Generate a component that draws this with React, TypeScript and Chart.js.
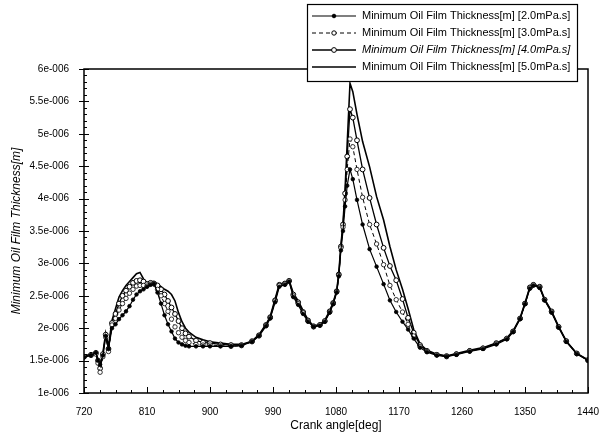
import React, { useEffect, useRef } from "react";
import { Chart, registerables } from "chart.js";
Chart.register(...registerables);

// Crank angle grid [deg]
const angles = [720, 730, 737, 740, 743, 747, 751, 755, 760, 765, 770, 775, 780, 785, 790, 795, 800, 805, 810, 815, 820, 825, 830, 835, 840, 845, 850, 855, 860, 865, 870, 880, 890, 900, 915, 930, 945, 960, 970, 980, 986, 993, 999, 1007, 1013, 1019, 1026, 1033, 1040, 1048, 1057, 1064, 1071, 1076, 1081, 1084, 1087, 1090, 1093, 1096, 1100, 1104, 1110, 1118, 1128, 1138, 1148, 1157, 1166, 1175, 1183, 1191, 1200, 1210, 1224, 1238, 1252, 1271, 1290, 1309, 1324, 1333, 1343, 1350, 1357, 1362, 1371, 1378, 1388, 1398, 1409, 1424, 1440];

// Minimum oil film thickness, in units of 1e-6 m
const film20 = [1.55, 1.58, 1.62, 1.5, 1.44, 1.58, 1.88, 1.68, 2.0, 2.06, 2.14, 2.2, 2.26, 2.34, 2.44, 2.52, 2.57, 2.6, 2.64, 2.67, 2.68, 2.55, 2.38, 2.2, 2.06, 1.95, 1.84, 1.78, 1.75, 1.73, 1.72, 1.72, 1.72, 1.72, 1.72, 1.72, 1.73, 1.79, 1.88, 2.03, 2.15, 2.4, 2.64, 2.67, 2.72, 2.48, 2.36, 2.22, 2.1, 2.02, 2.04, 2.1, 2.24, 2.37, 2.55, 2.8, 3.2, 3.5, 3.88, 4.2, 4.45, 4.3, 3.98, 3.6, 3.22, 2.95, 2.68, 2.43, 2.25, 2.1, 1.98, 1.84, 1.7, 1.63, 1.58, 1.56, 1.59, 1.64, 1.68, 1.75, 1.83, 1.94, 2.14, 2.37, 2.61, 2.66, 2.62, 2.43, 2.24, 2.01, 1.79, 1.6, 1.5];
const film30 = [1.56, 1.58, 1.6, 1.46, 1.32, 1.56, 1.86, 1.64, 2.05, 2.15, 2.28, 2.38, 2.46, 2.54, 2.6, 2.65, 2.66, 2.66, 2.65, 2.68, 2.68, 2.6, 2.5, 2.38, 2.26, 2.14, 2.02, 1.93, 1.86, 1.81, 1.78, 1.75, 1.74, 1.74, 1.73, 1.72, 1.73, 1.79, 1.88, 2.04, 2.16, 2.42, 2.66, 2.68, 2.73, 2.5, 2.38, 2.24, 2.11, 2.02, 2.05, 2.11, 2.25, 2.38, 2.56, 2.82, 3.24, 3.56, 3.98, 4.45, 4.92, 4.8, 4.45, 4.02, 3.6, 3.3, 2.98, 2.66, 2.44, 2.25, 2.06, 1.88, 1.72, 1.64, 1.59, 1.56, 1.6, 1.65, 1.69, 1.76, 1.84, 1.95, 2.15, 2.38, 2.62, 2.67, 2.63, 2.44, 2.25, 2.02, 1.8, 1.61, 1.5];
const film40 = [1.56, 1.59, 1.62, 1.5, 1.38, 1.6, 1.9, 1.68, 2.08, 2.22, 2.38, 2.5, 2.58, 2.64, 2.7, 2.73, 2.74, 2.72, 2.68, 2.7, 2.69, 2.66, 2.6, 2.52, 2.42, 2.32, 2.22, 2.11, 2.0, 1.92, 1.87, 1.81, 1.78, 1.77, 1.75, 1.74, 1.74, 1.8, 1.89, 2.05, 2.17, 2.43, 2.67, 2.69, 2.73, 2.52, 2.4, 2.25, 2.12, 2.03, 2.05, 2.11, 2.26, 2.39, 2.57, 2.83, 3.26, 3.6, 4.08, 4.65, 5.38, 5.25, 4.9, 4.45, 4.01, 3.6, 3.24, 2.96, 2.74, 2.45, 2.16, 1.93, 1.74, 1.65, 1.59, 1.57, 1.6, 1.65, 1.69, 1.77, 1.84, 1.95, 2.15, 2.38, 2.63, 2.67, 2.64, 2.44, 2.26, 2.02, 1.8, 1.61, 1.51];
const film50 = [1.57, 1.6, 1.63, 1.52, 1.42, 1.62, 1.92, 1.72, 2.12, 2.3, 2.48, 2.58, 2.66, 2.72, 2.78, 2.84, 2.86, 2.76, 2.7, 2.72, 2.72, 2.68, 2.64, 2.6, 2.57, 2.52, 2.42, 2.24, 2.1, 2.0, 1.94, 1.86, 1.82, 1.79, 1.77, 1.75, 1.75, 1.8, 1.9, 2.06, 2.18, 2.45, 2.68, 2.7, 2.74, 2.54, 2.42, 2.27, 2.13, 2.03, 2.06, 2.12, 2.27, 2.4, 2.58, 2.85, 3.28, 3.62, 4.15, 4.85, 5.78, 5.65, 5.3, 4.88, 4.49, 4.03, 3.67, 3.26, 2.9, 2.6, 2.3, 1.98, 1.76, 1.66, 1.6, 1.57, 1.61, 1.66, 1.7, 1.77, 1.85, 1.96, 2.16, 2.39, 2.64, 2.68, 2.64, 2.45, 2.26, 2.03, 1.8, 1.61, 1.51];

const seriesLabels = [
  "Minimum Oil Film Thickness[m] [2.0mPa.s]",
  "Minimum Oil Film Thickness[m] [3.0mPa.s]",
  "Minimum Oil Film Thickness[m] [4.0mPa.s]",
  "Minimum Oil Film Thickness[m] [5.0mPa.s]",
];

const xTicks = [720, 810, 900, 990, 1080, 1170, 1260, 1350, 1440];

const FONT = "'Liberation Sans', Arial, sans-serif";

const framePlugin = {
  id: "frame",
  afterDatasetsDraw(chart: any) {
    const { ctx, chartArea: a, scales } = chart;
    const xs = scales.x;
    const ys = scales.y;
    ctx.save();
    ctx.strokeStyle = "#000";
    ctx.lineWidth = 1.5;
    ctx.strokeRect(a.left, a.top, a.right - a.left, a.bottom - a.top);
    ctx.lineWidth = 1;
    ctx.beginPath();
    for (let v = 720; v <= 1440 + 0.001; v += 22.5) {
      const px = Math.round(xs.getPixelForValue(v)) + 0.5;
      const major = Math.abs((v - 720) % 90) < 0.01;
      ctx.moveTo(px, a.bottom);
      ctx.lineTo(px, a.bottom - (major ? 6 : 3));
    }
    for (let i = 0; i <= 50; i++) {
      const v = 1 + i * 0.1;
      const py = Math.round(ys.getPixelForValue(v)) + 0.5;
      const major = i % 5 === 0;
      ctx.moveTo(a.left - (major ? 5 : 0), py);
      ctx.lineTo(a.left + (major ? 5 : 3), py);
    }
    ctx.stroke();
    ctx.restore();
  },
};

const legendPlugin = {
  id: "boxLegend",
  afterDraw(chart: any) {
    const { ctx } = chart;
    const bx = 307, by = 4, bw = 270, bh = 77;
    ctx.save();
    ctx.fillStyle = "#fff";
    ctx.fillRect(bx, by, bw, bh);
    ctx.strokeStyle = "#000";
    ctx.lineWidth = 1.2;
    ctx.strokeRect(bx + 0.5, by + 0.5, bw, bh);
    chart.data.datasets.forEach((ds: any, i: number) => {
      const y = by + 12 + i * 17;
      ctx.strokeStyle = "#000";
      ctx.lineWidth = ds.borderWidth || 1;
      ctx.setLineDash(ds.borderDash || []);
      ctx.beginPath();
      ctx.moveTo(bx + 5, y);
      ctx.lineTo(bx + 49, y);
      ctx.stroke();
      ctx.setLineDash([]);
      if (ds.pointRadius > 0) {
        ctx.beginPath();
        ctx.arc(bx + 27, y, ds.pointRadius, 0, Math.PI * 2);
        ctx.fillStyle = ds.pointBackgroundColor;
        ctx.fill();
        ctx.lineWidth = 1;
        ctx.stroke();
      }
      ctx.fillStyle = "#000";
      ctx.font = (i === 2 ? "italic " : "") + "11px " + FONT;
      ctx.textBaseline = "middle";
      ctx.textAlign = "left";
      ctx.fillText(ds.label, bx + 55, y);
    });
    ctx.restore();
  },
};

function toPoints(vals: number[]) {
  return angles.map((a, i) => ({ x: a, y: vals[i] }));
}

export default function App() {
  const ref = useRef<HTMLCanvasElement | null>(null);
  useEffect(() => {
    document.body.style.margin = "0";
    const canvas = ref.current!;
    const chart = new Chart(canvas, {
      type: "line",
      data: {
        datasets: [
          {
            label: seriesLabels[0],
            data: toPoints(film20),
            borderColor: "#000",
            borderWidth: 1.2,
            pointRadius: 1.8,
            pointBackgroundColor: "#000",
            pointBorderColor: "#000",
            pointBorderWidth: 0.8,
          },
          {
            label: seriesLabels[1],
            data: toPoints(film30),
            borderColor: "#000",
            borderWidth: 1,
            borderDash: [4, 3],
            pointRadius: 2.2,
            pointBackgroundColor: "#fff",
            pointBorderColor: "#000",
            pointBorderWidth: 0.8,
          },
          {
            label: seriesLabels[2],
            data: toPoints(film40),
            borderColor: "#000",
            borderWidth: 1.3,
            pointRadius: 2.4,
            pointBackgroundColor: "#fff",
            pointBorderColor: "#000",
            pointBorderWidth: 1,
          },
          {
            label: seriesLabels[3],
            data: toPoints(film50),
            borderColor: "#000",
            borderWidth: 1.6,
            pointRadius: 0,
          },
        ],
      },
      options: {
        animation: false,
        responsive: false,
        parsing: false as any,
        layout: { padding: { left: 0, right: 28, top: 69, bottom: 0 } },
        plugins: {
          legend: { display: false },
          tooltip: { enabled: false },
        },
        scales: {
          x: {
            type: "linear",
            min: 720,
            max: 1440,
            afterBuildTicks: (s: any) => {
              s.ticks = xTicks.map((v) => ({ value: v }));
            },
            afterFit: (s: any) => {
              s.height = 46;
            },
            ticks: {
              color: "#000",
              font: { family: FONT, size: 10 },
              padding: 5,
              maxRotation: 0,
              callback: (v: any) => String(v),
            },
            grid: { display: false },
            border: { display: false },
            title: {
              display: true,
              text: "Crank angle[deg]",
              color: "#000",
              font: { family: FONT, size: 12 },
              padding: { top: 0, bottom: 6 },
            },
          },
          y: {
            min: 1,
            max: 6,
            ticks: {
              stepSize: 0.5,
              color: "#000",
              font: { family: FONT, size: 10 },
              padding: 7,
              callback: (v: any) => `${Number(v)}e-006`,
            },
            afterFit: (s: any) => {
              s.width = 84;
            },
            grid: { display: false },
            border: { display: false },
            title: {
              display: true,
              text: "Minimum Oil Film Thickness[m]",
              color: "#000",
              font: { family: FONT, size: 12, style: "italic" },
              padding: { top: 9, bottom: 0 },
            },
          },
        },
      },
      plugins: [framePlugin, legendPlugin],
    } as any);
    return () => chart.destroy();
  }, []);
  return (
    <div style={{ width: 616, height: 439, position: "relative", background: "#fff" }}>
      <canvas ref={ref} width={616} height={439} />
    </div>
  );
}
